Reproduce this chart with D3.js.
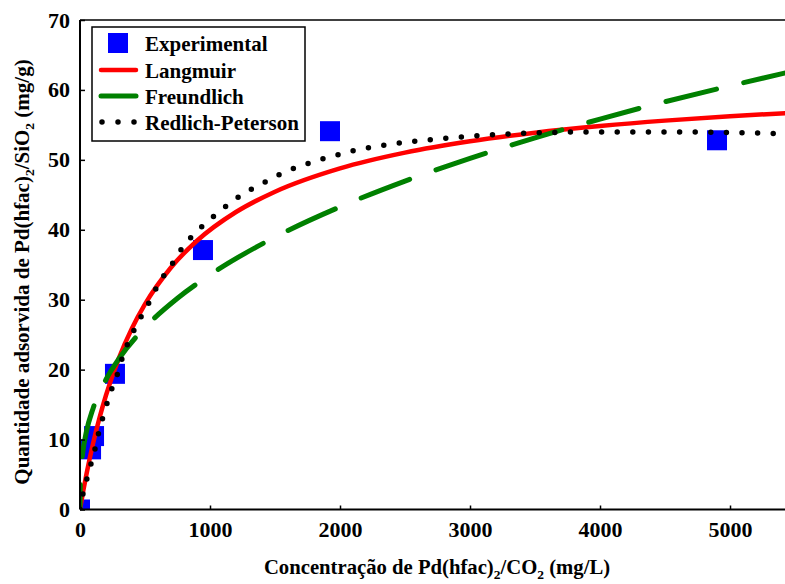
<!DOCTYPE html>
<html>
<head>
<meta charset="utf-8">
<script src="https://cdn.jsdelivr.net/npm/d3@7"></script>
<style>
  html, body { margin: 0; padding: 0; background: #fff; }
  svg { display: block; }
  text { font-family: "Liberation Serif", "Times New Roman", serif; font-weight: bold; fill: #000; }
</style>
</head>
<body>
<svg id="chart" width="785" height="584"></svg>
<script>
// ---- data ----
const xTicks = [0, 1000, 2000, 3000, 4000, 5000];
const yTicks = [0, 10, 20, 30, 40, 50, 60, 70];

const expC = [0, 85, 108, 269, 946, 1923, 4900];
const expQ = [0, 8.6, 10.5, 19.4, 37.1, 54.1, 52.8];

const langC = [0, 25, 50, 100, 150, 200, 300, 400, 500, 700, 900, 1200, 1500, 2000, 2500, 3000, 3500, 4000, 4500, 5000, 5500];
const langQ = [0, 2.65, 5.08, 9.40, 13.11, 16.34, 21.69, 25.92, 29.36, 34.61, 38.43, 42.54, 45.45, 48.79, 51.04, 52.66, 53.89, 54.84, 55.61, 56.23, 56.76];

const freuC = [0, 1, 5, 10, 20, 50, 100, 200, 300, 500, 750, 1000, 1500, 2000, 2500, 3000, 3500, 4000, 4500, 5000, 5500];
const freuQ = [0, 2.66, 4.80, 6.19, 7.99, 11.18, 14.42, 18.59, 21.58, 26.03, 30.21, 33.56, 38.95, 43.28, 46.97, 50.21, 53.15, 55.83, 58.31, 60.58, 62.76];

const rpC = [0, 25, 55, 90, 120, 145, 178, 215, 255, 300, 330, 385, 440, 510, 565, 630, 715, 790, 900, 1020, 1140, 1250, 1380, 1500, 1620, 1740, 1860, 1980, 2100, 2300, 2500, 2700, 2900, 3100, 3300, 3500, 4000, 4500, 5000, 5500];
const rpQ = [0, 2.4, 4.5, 6.9, 9.0, 11.1, 13.3, 15.6, 17.8, 20.0, 22.0, 24.4, 26.6, 28.8, 30.9, 33.0, 35.3, 37.5, 39.8, 41.8, 43.6, 45.1, 46.4, 47.6, 48.6, 49.4, 50.1, 50.7, 51.3, 52.0, 52.5, 52.9, 53.2, 53.5, 53.7, 53.85, 54.0, 54.0, 53.9, 53.7];

const legendLabels = ["Experimental", "Langmuir", "Freundlich", "Redlich-Peterson"];

// ---- layout ----
const svg = d3.select("#chart");
const pL = 80, pR = 785, pT = 20, pB = 509.5;
const x = d3.scaleLinear().domain([0, 5423]).range([pL, pR]);
const y = d3.scaleLinear().domain([0, 70]).range([pB, pT]);

svg.append("defs").append("clipPath").attr("id", "clip")
  .append("rect").attr("x", pL).attr("y", pT).attr("width", pR - pL).attr("height", pB - pT);

const plot = svg.append("g").attr("clip-path", "url(#clip)");

// experimental squares
const sq = 20;
plot.selectAll("rect.exp").data(expC.map((c, i) => [c, expQ[i]])).enter()
  .append("rect").attr("class", "exp")
  .attr("x", d => x(d[0]) - sq / 2).attr("y", d => y(d[1]) - sq / 2)
  .attr("width", sq).attr("height", sq).attr("fill", "#0000ff");

const line = d3.line().x(d => x(d[0])).y(d => y(d[1])).curve(d3.curveMonotoneX);

plot.append("path").datum(langC.map((c, i) => [c, langQ[i]]))
  .attr("d", line).attr("fill", "none").attr("stroke", "#ff0000").attr("stroke-width", 4.5);

plot.append("path").datum(freuC.map((c, i) => [c, freuQ[i]]))
  .attr("d", line).attr("fill", "none").attr("stroke", "#008000").attr("stroke-width", 5)
  .attr("stroke-linecap", "round").attr("stroke-dasharray", "52,28").attr("stroke-dashoffset", 27);

plot.append("path").datum(rpC.map((c, i) => [c, rpQ[i]]))
  .attr("d", line).attr("fill", "none").attr("stroke", "#000").attr("stroke-width", 5.5)
  .attr("stroke-linecap", "round").attr("stroke-dasharray", "0,15.6");

// axes
const xAxis = svg.append("g").attr("transform", `translate(0,${pB})`)
  .call(d3.axisBottom(x).tickValues(xTicks).tickSizeInner(-4).tickSizeOuter(0).tickPadding(12).tickFormat(d3.format("d")));
const yAxis = svg.append("g").attr("transform", `translate(${pL},0)`)
  .call(d3.axisLeft(y).tickValues(yTicks).tickSizeInner(-5).tickSizeOuter(0).tickPadding(10).tickFormat(d3.format("d")));
[xAxis, yAxis].forEach(a => {
  a.select(".domain").attr("stroke", "#000").attr("stroke-width", 2);
  a.selectAll(".tick line").attr("stroke", "#000").attr("stroke-width", 1.5);
  a.selectAll(".tick text").style("font-family", '"Liberation Serif", serif').style("font-weight", "bold").style("font-size", "22px").attr("fill", "#000");
});
xAxis.select(".domain").attr("d", `M${pL},0H${pR}`);
yAxis.select(".domain").attr("d", `M0,${pB}V${pT}`);

// top frame line
svg.append("line").attr("x1", pL).attr("x2", pR).attr("y1", pT).attr("y2", pT)
  .attr("stroke", "#000").attr("stroke-width", 1.5);

// axis titles
const xt = svg.append("text").attr("x", 437).attr("y", 574).attr("text-anchor", "middle").style("font-size", "20.7px");
xt.append("tspan").text("Concentração de Pd(hfac)");
xt.append("tspan").text("2").style("font-size", "13.5px").attr("dy", 5);
xt.append("tspan").text("/CO").attr("dy", -5);
xt.append("tspan").text("2").style("font-size", "13.5px").attr("dy", 5);
xt.append("tspan").text(" (mg/L)").attr("dy", -5);

const yt = svg.append("text").attr("transform", "translate(29,272) rotate(-90)").attr("text-anchor", "middle").style("font-size", "21px");
yt.append("tspan").text("Quantidade adsorvida de Pd(hfac)");
yt.append("tspan").text("2").style("font-size", "13.5px").attr("dy", 5);
yt.append("tspan").text("/SiO").attr("dy", -5);
yt.append("tspan").text("2").style("font-size", "13.5px").attr("dy", 5);
yt.append("tspan").text(" (mg/g)").attr("dy", -5);

// legend
const lg = svg.append("g");
lg.append("rect").attr("x", 92).attr("y", 27).attr("width", 213).attr("height", 114)
  .attr("fill", "#fff").attr("stroke", "#000").attr("stroke-width", 1.5);
const rowY = [43, 70, 96, 122];
lg.append("rect").attr("x", 108).attr("y", rowY[0] - 10).attr("width", 20).attr("height", 20).attr("fill", "#0000ff");
lg.append("line").attr("x1", 101).attr("x2", 136).attr("y1", rowY[1]).attr("y2", rowY[1])
  .attr("stroke", "#ff0000").attr("stroke-width", 4.5).attr("stroke-linecap", "round");
lg.append("line").attr("x1", 101).attr("x2", 136).attr("y1", rowY[2]).attr("y2", rowY[2])
  .attr("stroke", "#008000").attr("stroke-width", 5).attr("stroke-linecap", "round");
lg.append("line").attr("x1", 102).attr("x2", 135).attr("y1", rowY[3]).attr("y2", rowY[3])
  .attr("stroke", "#000").attr("stroke-width", 5.5).attr("stroke-linecap", "round").attr("stroke-dasharray", "0,16");
legendLabels.forEach((t, i) => {
  lg.append("text").attr("x", 145).attr("y", rowY[i] + 8).style("font-size", "21px").text(t);
});
</script>
</body>
</html>
